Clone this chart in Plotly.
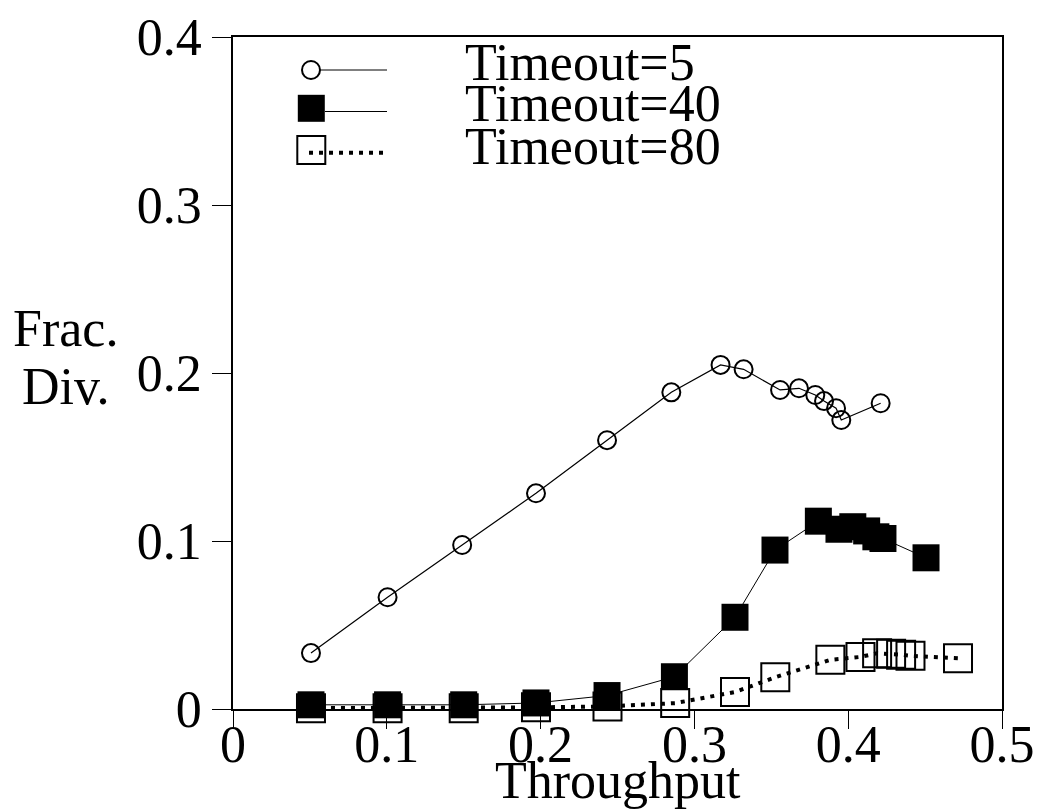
import plotly.graph_objects as go

# Throughput vs. fraction of divergent transactions for three timeout settings
t5_x = [0.0507, 0.1005, 0.149, 0.197, 0.2432, 0.285, 0.317, 0.332, 0.3557, 0.368, 0.3786, 0.3843, 0.3921, 0.3955, 0.4211]
t5_y = [0.0333, 0.0665, 0.0976, 0.1284, 0.160, 0.1885, 0.2048, 0.2022, 0.1899, 0.1909, 0.1869, 0.1833, 0.1790, 0.1720, 0.1820]

t40_x = [0.0507, 0.1005, 0.150, 0.197, 0.2432, 0.287, 0.3264, 0.3524, 0.3806, 0.394, 0.403, 0.412, 0.418, 0.4226, 0.4506]
t40_y = [0.0025, 0.0025, 0.0025, 0.0036, 0.0080, 0.0192, 0.0546, 0.0946, 0.1118, 0.1070, 0.1085, 0.1060, 0.1025, 0.1015, 0.0900]

t80_x = [0.0507, 0.1005, 0.150, 0.197, 0.2435, 0.2875, 0.3264, 0.3526, 0.3884, 0.408, 0.4188, 0.4279, 0.4344, 0.4405, 0.4714]
t80_y = [0.0005, 0.0005, 0.0005, 0.0010, 0.0015, 0.0035, 0.0101, 0.0189, 0.0293, 0.0310, 0.0332, 0.0329, 0.0323, 0.0317, 0.0302]

series_names = ["Timeout=5", "Timeout=40", "Timeout=80"]
x_ticks = [0, 0.1, 0.2, 0.3, 0.4, 0.5]
y_ticks = [0, 0.1, 0.2, 0.3, 0.4]

FONT = "Liberation Serif, Times New Roman, serif"
FS = 52

# plot area in pixels
W, H = 1039, 810
L, R, T, B = 233, 37, 37, 101
PW, PH = W - L - R, H - T - B


def px(xp):
    return (xp - L) / PW


def py(yp):
    return (H - B - yp) / PH


fig = go.Figure()

fig.add_trace(go.Scatter(
    x=t5_x, y=t5_y, mode="lines+markers", name=series_names[0],
    line=dict(color="black", width=1.2),
    marker=dict(symbol="circle-open", size=18, color="black", line=dict(width=2)),
    cliponaxis=False, showlegend=False))

fig.add_trace(go.Scatter(
    x=t40_x, y=t40_y, mode="lines+markers", name=series_names[1],
    line=dict(color="black", width=1),
    marker=dict(symbol="square", size=27, color="black", line=dict(width=0)),
    cliponaxis=False, showlegend=False))

fig.add_trace(go.Scatter(
    x=t80_x, y=t80_y, mode="lines+markers", name=series_names[2],
    line=dict(color="black", width=4, dash="4px,6px"),
    marker=dict(symbol="square-open", size=28, color="black", line=dict(width=2)),
    cliponaxis=False, showlegend=False))

# hand-placed legend: marker at the left end of a short line sample
shapes = []
# Timeout=5
shapes.append(dict(type="line", xref="paper", yref="paper",
                   x0=px(320), x1=px(387), y0=py(70), y1=py(70),
                   line=dict(color="black", width=1)))
shapes.append(dict(type="circle", xref="paper", yref="paper",
                   xsizemode="pixel", ysizemode="pixel",
                   xanchor=px(311), yanchor=py(70), x0=-9, x1=9, y0=-9, y1=9,
                   line=dict(color="black", width=2)))
# Timeout=40
shapes.append(dict(type="line", xref="paper", yref="paper",
                   x0=px(325), x1=px(387), y0=py(111.5), y1=py(111.5),
                   line=dict(color="black", width=1)))
shapes.append(dict(type="rect", xref="paper", yref="paper",
                   xsizemode="pixel", ysizemode="pixel",
                   xanchor=px(311.3), yanchor=py(108.3), x0=-13.5, x1=13.5, y0=-13.5, y1=13.5,
                   fillcolor="black", line=dict(width=0)))
# Timeout=80
shapes.append(dict(type="line", xref="paper", yref="paper",
                   x0=px(309), x1=px(388), y0=py(152.7), y1=py(152.7),
                   line=dict(color="black", width=4, dash="4px,6px")))
shapes.append(dict(type="rect", xref="paper", yref="paper",
                   xsizemode="pixel", ysizemode="pixel",
                   xanchor=px(311.3), yanchor=py(150), x0=-14, x1=14, y0=-14, y1=14,
                   line=dict(color="black", width=2)))

annotations = []
for name, yc in zip(series_names, [62.5, 104, 146]):
    annotations.append(dict(text=name, xref="paper", yref="paper",
                            x=px(463), y=py(yc), xanchor="left", yanchor="middle",
                            showarrow=False, font=dict(family=FONT, size=FS, color="black")))

# axis titles
annotations.append(dict(text="Frac.", xref="paper", yref="paper", x=px(65.5), y=py(328),
                        xanchor="center", yanchor="middle", showarrow=False,
                        font=dict(family=FONT, size=FS, color="black")))
annotations.append(dict(text="Div.", xref="paper", yref="paper", x=px(66), y=py(386),
                        xanchor="center", yanchor="middle", showarrow=False,
                        font=dict(family=FONT, size=FS, color="black")))
annotations.append(dict(text="Throughput", xref="paper", yref="paper", x=0.5, y=py(780),
                        xanchor="center", yanchor="middle", showarrow=False,
                        font=dict(family=FONT, size=FS, color="black")))

fig.update_layout(
    width=W, height=H,
    margin=dict(l=L, r=R, t=T, b=B, pad=0, autoexpand=False),
    paper_bgcolor="white", plot_bgcolor="white",
    font=dict(family=FONT, size=FS, color="black"),
    shapes=shapes, annotations=annotations,
    showlegend=False,
)

fig.update_xaxes(
    range=[0, 0.5], tickvals=x_ticks, ticktext=[f"{v:g}" for v in x_ticks],
    automargin=False,
    showgrid=False, zeroline=False,
    showline=True, linecolor="black", linewidth=1.5, mirror=True,
    ticks="outside", ticklen=18, tickwidth=1, tickcolor="black",
    ticklabelstandoff=-29,
    tickfont=dict(family=FONT, size=FS, color="black"),
)
fig.update_yaxes(
    range=[0, 0.4], tickvals=y_ticks, ticktext=[f"{v:g}" for v in y_ticks],
    automargin=False,
    showgrid=False, zeroline=False,
    showline=True, linecolor="black", linewidth=1.5, mirror=True,
    ticks="outside", ticklen=19, tickwidth=1, tickcolor="black",
    tickfont=dict(family=FONT, size=FS, color="black"),
)

fig.write_html("out.html")
